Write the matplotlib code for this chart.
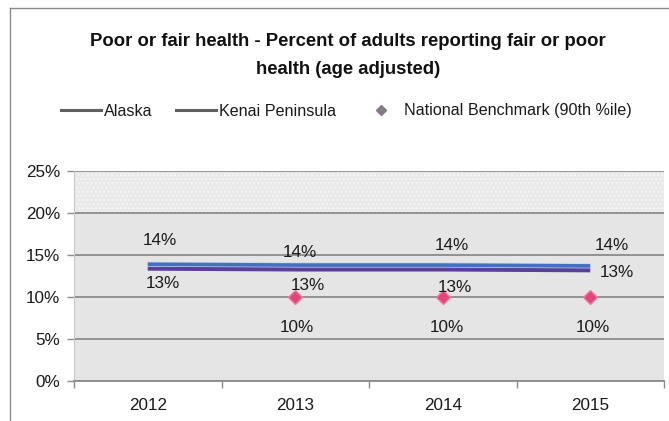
import matplotlib
matplotlib.use("Agg")
import matplotlib.pyplot as plt
import matplotlib.patheffects as pe
from matplotlib.lines import Line2D
from matplotlib.ticker import FuncFormatter, FixedLocator

plt.rcParams['font.family'] = ['Liberation Sans', 'DejaVu Sans']

years = ["2012", "2013", "2014", "2015"]
alaska = [13.9, 13.8, 13.8, 13.7]
kenai = [13.4, 13.3, 13.3, 13.2]
benchmark = [None, 10, 10, 10]

# label nudges in pixels (dx, dy) so the labels sit like the original layout
alaska_off = [(12, 24), (5, 13), (9, 20), (22, 20)]
kenai_off = [(15, -15), (13, -16), (12, -18), (27, -2)]
bench_off = [(0, 0), (2, -30), (4, -30), (3, -30)]

fig = plt.figure(figsize=(6.69, 4.21), dpi=100)
ax = fig.add_axes([74 / 669, 40 / 421, 590 / 669, 210 / 421])

ax.set_facecolor('#e5e5e5')
ax.axhspan(20, 25, facecolor='#e9e9e9', edgecolor='#f6f6f6', hatch='....', lw=0, zorder=0)

x = list(range(len(years)))

ax.plot(x, kenai, color='#5b3f98', lw=3.2, solid_capstyle='butt', zorder=3)
ax.plot(x, alaska, color='#4570c2', lw=2.6, solid_capstyle='butt', zorder=4,
        path_effects=[pe.Stroke(linewidth=3.6, foreground='#b9d3f0'), pe.Normal()])

bx = [i for i, v in enumerate(benchmark) if v is not None]
by = [v for v in benchmark if v is not None]
ax.plot(bx, by, ls='none', marker='D', ms=7, color='#e2457c', mec='#f07aa0', zorder=5)

for i, v in enumerate(alaska):
    ax.annotate(f"{v:.0f}%", (i, v), xytext=alaska_off[i], textcoords='offset pixels',
                ha='center', va='center', fontsize=12.3, color='#1a1a1a', zorder=6)
for i, v in enumerate(kenai):
    ax.annotate(f"{v:.0f}%", (i, v), xytext=kenai_off[i], textcoords='offset pixels',
                ha='center', va='center', fontsize=12.3, color='#1a1a1a', zorder=6)
for i, v in enumerate(benchmark):
    if v is None:
        continue
    ax.annotate(f"{v:.0f}%", (i, v), xytext=bench_off[i], textcoords='offset pixels',
                ha='center', va='center', fontsize=12.3, color='#1a1a1a', zorder=6)

ax.set_xlim(-0.5, len(years) - 0.5)
ax.set_ylim(0, 25)
ax.set_yticks([0, 5, 10, 15, 20, 25])
ax.yaxis.set_major_formatter(FuncFormatter(lambda v, p: f"{v:.0f}%"))
ax.set_xticks(x)
ax.set_xticklabels(years)
ax.xaxis.set_minor_locator(FixedLocator([i - 0.5 for i in range(len(years) + 1)]))
ax.tick_params(axis='x', which='major', length=0, pad=12, labelsize=12.3, labelcolor='#1a1a1a')
ax.tick_params(axis='x', which='minor', length=5, color='#8a8a8a', width=1)
ax.tick_params(axis='y', length=5, color='#8a8a8a', width=1, pad=5, labelsize=12.3, labelcolor='#1a1a1a')

ax.grid(axis='y', color='#8c8c8c', lw=1.3, zorder=1)
ax.set_axisbelow(True)
for s in ['top', 'right']:
    ax.spines[s].set_visible(False)
ax.spines['left'].set_color('#c8c8c8')
ax.spines['bottom'].set_color('#8c8c8c')
ax.spines['bottom'].set_linewidth(1.3)

# title, two lines
fig.text(348 / 669, 1 - 42 / 421, "Poor or fair health - Percent of adults reporting fair or poor",
         ha='center', va='center', fontsize=13.3, fontweight='bold', color='#111111')
fig.text(348 / 669, 1 - 70 / 421, "health (age adjusted)",
         ha='center', va='center', fontsize=13.3, fontweight='bold', color='#111111')

handles = [
    Line2D([], [], color='#606060', lw=2.2),
    Line2D([], [], color='#606060', lw=2.2),
    Line2D([], [], ls='none', marker='D', ms=5, color='#857a86'),
]
fig.legend(handles, ["Alaska", "Kenai Peninsula", "National Benchmark (90th %ile)"],
           loc='center', bbox_to_anchor=(346 / 669, 1 - 111 / 421), ncol=3, frameon=False,
           fontsize=11.6, handlelength=2.48, handletextpad=0.19, columnspacing=1.5,
           labelcolor='#1a1a1a')

# chart frame
fig.add_artist(Line2D([10 / 669, 10 / 669], [0, 1 - 8 / 421], transform=fig.transFigure,
                      color='#8a8a8a', lw=1))
fig.add_artist(Line2D([10 / 669, 1], [1 - 8 / 421, 1 - 8 / 421], transform=fig.transFigure,
                      color='#8a8a8a', lw=1))

fig.savefig("out.png", dpi=100, facecolor='white')
